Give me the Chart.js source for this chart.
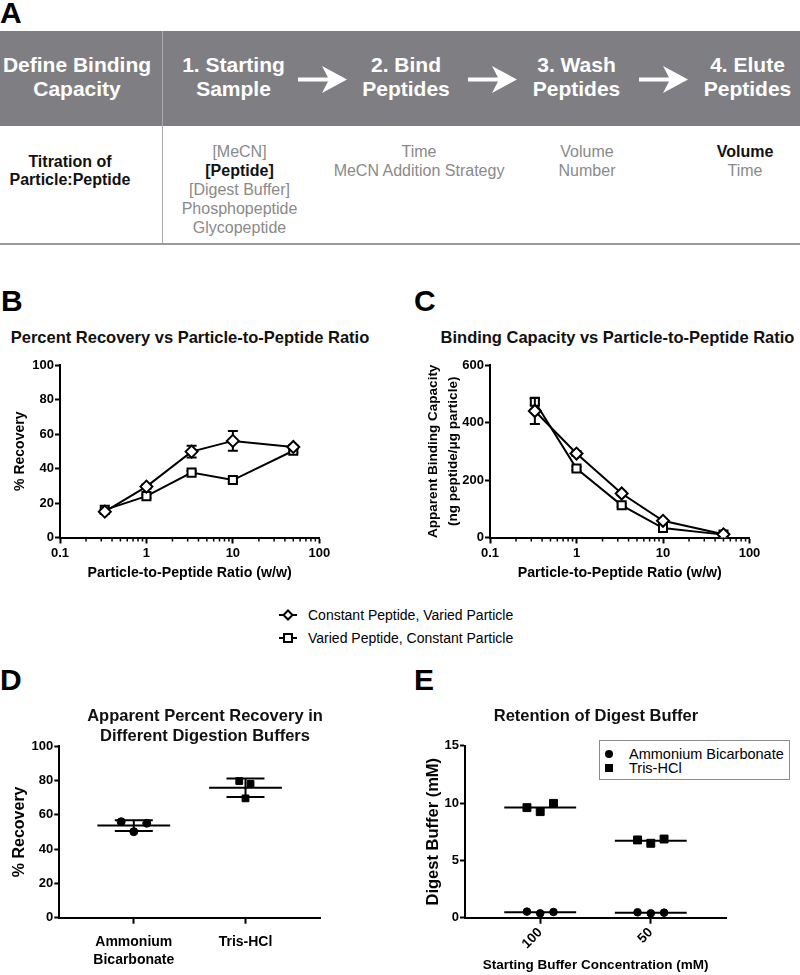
<!DOCTYPE html>
<html>
<head>
<meta charset="utf-8">
<title>Figure</title>
<script src="https://cdn.jsdelivr.net/npm/chart.js@4.4.1/dist/chart.umd.min.js"></script>
<style>
  html,body{margin:0;padding:0;background:#fff}
  body{position:relative;width:800px;height:975px;overflow:hidden;font-family:"Liberation Sans",Arial,Helvetica,sans-serif;color:#000}
  .abs{position:absolute}
  .letter{position:absolute;font-weight:bold;font-size:30px;line-height:30px;color:#000}
  .ban{position:absolute;top:53px;width:200px;margin-left:-100px;text-align:center;color:#fff;font-weight:bold;font-size:21px;line-height:24px;white-space:nowrap}
  .sub{position:absolute;top:141.5px;width:240px;margin-left:-120px;text-align:center;color:#8a8a8a;font-size:16px;line-height:19px;white-space:nowrap}
  .sub b{color:#111}
  .ttl{position:absolute;width:400px;margin-left:-200px;text-align:center;font-weight:bold;font-size:16.5px;line-height:20px;white-space:nowrap;color:#111}
  canvas{position:absolute}
  .lgrow{height:23px;line-height:23px;font-size:14px;white-space:nowrap;display:flex;align-items:center}
  .lgrow svg{margin-right:11px}
  .elg{position:absolute;left:599px;top:740px;width:189px;height:38px;border:1px solid #8c8c8c;background:#fff}
  .elrow{position:absolute;left:0;font-size:14.5px;line-height:14px;white-space:nowrap}
</style>
</head>
<body>
<!-- Panel A -->
<div class="letter" style="left:0;top:-2.4px">A</div>
<div class="abs" style="left:0;top:31px;width:800px;height:95px;background:#7f7f83"></div>
<div class="abs" style="left:162px;top:31px;width:1px;height:212px;background:#aaaaad"></div>
<div class="abs" style="left:0;top:243px;width:800px;height:2px;background:#9a9a9a"></div>

<div class="ban" style="left:77px">Define Binding<br>Capacity</div>
<div class="ban" style="left:233.5px">1. Starting<br>Sample</div>
<div class="ban" style="left:406px">2. Bind<br>Peptides</div>
<div class="ban" style="left:576.5px">3. Wash<br>Peptides</div>
<div class="ban" style="left:747.5px">4. Elute<br>Peptides</div>

<svg class="abs" style="left:298px;top:66px" width="50" height="27"><polygon points="0,11.5 30,11.5 24,0 49,13.5 24,27 30,15.5 0,15.5" fill="#fff"/></svg>
<svg class="abs" style="left:468px;top:66px" width="50" height="27"><polygon points="0,11.5 30,11.5 24,0 49,13.5 24,27 30,15.5 0,15.5" fill="#fff"/></svg>
<svg class="abs" style="left:638.5px;top:66px" width="50" height="27"><polygon points="0,11.5 30,11.5 24,0 49,13.5 24,27 30,15.5 0,15.5" fill="#fff"/></svg>

<div class="sub" style="left:70px;top:152.75px;line-height:18.5px;color:#111;font-weight:bold">Titration of<br>Particle:Peptide</div>
<div class="sub" style="left:239.5px">[MeCN]<br><b>[Peptide]</b><br>[Digest Buffer]<br>Phosphopeptide<br>Glycopeptide</div>
<div class="sub" style="left:419px">Time<br>MeCN Addition Strategy</div>
<div class="sub" style="left:587px">Volume<br>Number</div>
<div class="sub" style="left:745px"><b>Volume</b><br>Time</div>

<!-- Panel B / C -->
<div class="letter" style="left:1px;top:286.3px">B</div>
<div class="letter" style="left:414px;top:286.3px">C</div>
<div class="ttl" style="left:190px;top:326.7px">Percent Recovery vs Particle-to-Peptide Ratio</div>
<div class="ttl" style="left:617.5px;top:326.7px">Binding Capacity vs Particle-to-Peptide Ratio</div>
<canvas id="cB" width="400" height="240" style="left:0;top:355px"></canvas>
<canvas id="cC" width="400" height="240" style="left:400px;top:355px"></canvas>
<div id="legendBC" class="abs" style="left:279px;top:603.5px"></div>

<!-- Panel D / E -->
<div class="letter" style="left:0;top:664.6px">D</div>
<div class="letter" style="left:414px;top:664.6px">E</div>
<canvas id="cD" width="400" height="245" style="left:0;top:730px"></canvas>
<canvas id="cE" width="400" height="245" style="left:400px;top:730px"></canvas>
<div class="ttl" style="left:205px;top:705px">Apparent Percent Recovery in<br>Different Digestion Buffers</div>
<div class="ttl" style="left:596px;top:705px">Retention of Digest Buffer</div>
<div id="legendE" class="elg"></div>

<script>
// ---------------- data ----------------
const ratios = [0.33, 1, 3.33, 10, 50];
const seriesNames = ['Constant Peptide, Varied Particle', 'Varied Peptide, Constant Particle'];
const recoveryConstPeptide = [15, 29.5, 49.8, 56, 52.5];
const recoveryConstPeptideSD = [1, 1.2, 3.4, 5.7, 1];
const recoveryVariedPeptide = [16, 24, 37.6, 33.3, 50.3];
const recoveryVariedPeptideSD = [1, 1, 1, 1, 1];
const capacityConstPeptide = [440, 292, 153, 58, 11];
const capacityConstPeptideSD = [45, 8, 6, 4, 2];
const capacityVariedPeptide = [472, 240, 112, 33, 10];
const capacityVariedPeptideSD = [10, 6, 5, 3, 1];
const logTickValues = [0.1, 1, 10, 100];
const logTickLabels = ['0.1', '1', '10', '100'];

const dCategories = [['Ammonium', 'Bicarbonate'], ['Tris-HCl']];
const dAmmonium = [55.9, 50.1, 55.0];
const dTris = [79.6, 77.9, 69.5];

const eCategories = ['100', '50'];
const eSeries = ['Ammonium Bicarbonate', 'Tris-HCl'];
const eAmmonium = [[0.53, 0.38, 0.50], [0.47, 0.38, 0.44]];
const eTris = [[9.60, 9.25, 9.97], [6.78, 6.49, 6.86]];

// ---------------- layout constants (not data) ----------------
const dJitter = [[-0.113, 0, 0.116], [-0.056, 0.045, 0]];
const eJitter = [-0.12, 0, 0.12];

const FONT = '"Liberation Sans", Arial, Helvetica, sans-serif';
Chart.defaults.font.family = FONT;
Chart.defaults.color = '#000';

const mean = a => a.reduce((s, v) => s + v, 0) / a.length;
const sd = a => { const m = mean(a); return Math.sqrt(a.reduce((s, v) => s + (v - m) * (v - m), 0) / (a.length - 1)); };

// error bars drawn just before each dataset
const errorBarPlugin = {
  id: 'errorBars',
  beforeDatasetDraw(chart, args) {
    const ds = chart.data.datasets[args.index];
    if (!ds.errors) return;
    const ys = chart.scales.y, ctx = chart.ctx;
    ctx.save(); ctx.strokeStyle = '#000'; ctx.lineWidth = 2;
    args.meta.data.forEach((pt, i) => {
      const v = ds.data[i].y, e = ds.errors[i];
      if (!e) return;
      const t = ys.getPixelForValue(v + e), b = ys.getPixelForValue(v - e), x = pt.x;
      ctx.beginPath();
      ctx.moveTo(x, t); ctx.lineTo(x, b);
      ctx.moveTo(x - 5, t); ctx.lineTo(x + 5, t);
      ctx.moveTo(x - 5, b); ctx.lineTo(x + 5, b);
      ctx.stroke();
    });
    ctx.restore();
  }
};

const logMinorTicks = {
  id: 'logMinorTicks',
  afterDraw(chart) {
    const s = chart.scales.x, ctx = chart.ctx;
    ctx.save(); ctx.strokeStyle = '#000'; ctx.lineWidth = 1.5;
    for (let e = -1; e < 2; e++) {
      for (let k = 2; k < 10; k++) {
        const px = s.getPixelForValue(k * Math.pow(10, e));
        ctx.beginPath(); ctx.moveTo(px, s.top); ctx.lineTo(px, s.top + 4); ctx.stroke();
      }
    }
    ctx.restore();
  }
};

function makeMeanPlugin(groups, halfMean, halfCap, showSd) {
  return {
    id: 'meanLines',
    beforeDatasetsDraw(chart) {
      const xs = chart.scales.x, ys = chart.scales.y, ctx = chart.ctx;
      ctx.save(); ctx.strokeStyle = '#000'; ctx.lineWidth = 2;
      groups.forEach(g => {
        const m = mean(g.values), y = ys.getPixelForValue(m);
        ctx.beginPath();
        ctx.moveTo(xs.getPixelForValue(g.cat - halfMean), y);
        ctx.lineTo(xs.getPixelForValue(g.cat + halfMean), y);
        if (showSd) {
          const s = sd(g.values);
          const yt = ys.getPixelForValue(m + s), yb = ys.getPixelForValue(m - s), xc = xs.getPixelForValue(g.cat);
          ctx.moveTo(xc, yt); ctx.lineTo(xc, yb);
          ctx.moveTo(xs.getPixelForValue(g.cat - halfCap), yt); ctx.lineTo(xs.getPixelForValue(g.cat + halfCap), yt);
          ctx.moveTo(xs.getPixelForValue(g.cat - halfCap), yb); ctx.lineTo(xs.getPixelForValue(g.cat + halfCap), yb);
        }
        ctx.stroke();
      });
      ctx.restore();
    }
  };
}

function yAxis(min, max, step, width, title, titleSize, titlePadTop, lineHeight) {
  return {
    type: 'linear', min, max,
    ticks: { stepSize: step, padding: 1, font: { size: 13, weight: 'bold' }, color: '#000' },
    grid: { drawOnChartArea: false, drawTicks: true, tickLength: 5, tickWidth: 2, tickColor: '#000' },
    border: { display: true, color: '#000', width: 2 },
    title: { display: true, text: title, color: '#000', font: { size: titleSize, weight: 'bold', lineHeight: lineHeight }, padding: { top: titlePadTop, bottom: 0 } },
    afterFit: s => { s.width = width; }
  };
}

function logXAxis(title, titlePadBottom, height) {
  return {
    type: 'logarithmic', min: 0.1, max: 100,
    afterBuildTicks: s => { s.ticks = logTickValues.map(v => ({ value: v })); },
    ticks: { autoSkip: false, maxRotation: 0, minRotation: 0, padding: 2, font: { size: 13, weight: 'bold' }, color: '#000',
      callback: (v, i) => logTickLabels[i] },
    grid: { drawOnChartArea: false, drawTicks: true, tickLength: 6, tickWidth: 2, tickColor: '#000' },
    border: { display: true, color: '#000', width: 2 },
    title: { display: true, text: title, color: '#000', font: { size: 14.2, weight: 'bold', lineHeight: 1.2 }, padding: { top: 0, bottom: titlePadBottom } },
    afterFit: s => { s.height = height; }
  };
}

function catXAxis(cats, min, max, height, tickFont, opts) {
  return Object.assign({
    type: 'linear', min, max,
    afterBuildTicks: s => { s.ticks = cats.map((c, i) => ({ value: i })); },
    ticks: { autoSkip: false, maxRotation: 0, minRotation: 0, padding: 9, font: tickFont, color: '#000',
      callback: (v, i) => cats[i] },
    grid: { drawOnChartArea: false, drawTicks: true, tickLength: 6, tickWidth: 2, tickColor: '#000' },
    border: { display: true, color: '#000', width: 2 },
    afterFit: s => { s.height = height; }
  }, opts || {});
}

function lineSet(label, xs, ys, errs, style, radius) {
  return {
    label, data: xs.map((x, i) => ({ x, y: ys[i] })), errors: errs,
    pointStyle: style, pointRadius: radius, pointBorderWidth: 2,
    pointBackgroundColor: '#fff', pointBorderColor: '#000', backgroundColor: '#fff',
    borderColor: '#000', borderWidth: 2, tension: 0, fill: false
  };
}

const baseOpts = { responsive: false, animation: false, devicePixelRatio: 1, events: [],
  plugins: { legend: { display: false }, tooltip: { enabled: false } } };

// ---------------- Panel B ----------------
new Chart(document.getElementById('cB'), {
  type: 'line',
  data: { datasets: [
    lineSet(seriesNames[0], ratios, recoveryConstPeptide, recoveryConstPeptideSD, 'rectRot', 6),
    lineSet(seriesNames[1], ratios, recoveryVariedPeptide, recoveryVariedPeptideSD, 'rect', 5.7)
  ] },
  options: Object.assign({}, baseOpts, {
    layout: { padding: { left: 0, top: 10, right: 80.7, bottom: 0 } },
    scales: {
      x: logXAxis('Particle-to-Peptide Ratio (w/w)', 13.3, 57.5),
      y: yAxis(0, 100, 20, 60, '% Recovery', 14, 11.6, 1.2)
    }
  }),
  plugins: [errorBarPlugin, logMinorTicks]
});

// ---------------- Panel C ----------------
new Chart(document.getElementById('cC'), {
  type: 'line',
  data: { datasets: [
    lineSet(seriesNames[0], ratios, capacityConstPeptide, capacityConstPeptideSD, 'rectRot', 6),
    lineSet(seriesNames[1], ratios, capacityVariedPeptide, capacityVariedPeptideSD, 'rect', 5.7)
  ] },
  options: Object.assign({}, baseOpts, {
    layout: { padding: { left: 0, top: 10, right: 50.5, bottom: 0 } },
    scales: {
      x: logXAxis('Particle-to-Peptide Ratio (w/w)', 13.3, 57.5),
      y: yAxis(0, 600, 200, 90, ['Apparent Binding Capacity', '(ng peptide/\u03bcg particle)'], 13.5, 23, 1.48)
    }
  }),
  plugins: [errorBarPlugin, logMinorTicks]
});

// legend B/C
(function () {
  const lg = document.getElementById('legendBC');
  const syms = [
    '<line x1="0" y1="8" x2="18" y2="8" stroke="#000" stroke-width="2"/><polygon points="9,3.5 13.5,8 9,12.5 4.5,8" fill="#fff" stroke="#000" stroke-width="2"/>',
    '<line x1="0" y1="8" x2="18" y2="8" stroke="#000" stroke-width="2"/><rect x="5" y="4" width="8" height="8" fill="#fff" stroke="#000" stroke-width="2"/>'
  ];
  seriesNames.forEach((n, i) => {
    const row = document.createElement('div');
    row.className = 'lgrow';
    row.innerHTML = '<svg width="18" height="16">' + syms[i] + '</svg><span></span>';
    row.querySelector('span').textContent = n;
    lg.appendChild(row);
  });
})();

// ---------------- Panel D ----------------
new Chart(document.getElementById('cD'), {
  type: 'scatter',
  data: { datasets: [
    { label: 'Ammonium Bicarbonate', data: dAmmonium.map((y, j) => ({ x: 0 + dJitter[0][j], y })),
      pointStyle: 'circle', pointRadius: 4, pointBorderWidth: 1, backgroundColor: '#000', borderColor: '#000' },
    { label: 'Tris-HCl', data: dTris.map((y, j) => ({ x: 1 + dJitter[1][j], y })),
      pointStyle: 'rect', pointRadius: 4.8, pointBorderWidth: 1, backgroundColor: '#000', borderColor: '#000' }
  ] },
  options: Object.assign({}, baseOpts, {
    layout: { padding: { left: 0, top: 16, right: 80, bottom: 0 } },
    scales: {
      x: catXAxis(dCategories, -0.667, 1.667, 57.3, { size: 14, weight: 'bold', lineHeight: 1.3 }),
      y: yAxis(0, 100, 20, 59.3, '% Recovery', 16, 10.4, 1.2)
    }
  }),
  plugins: [makeMeanPlugin([{ cat: 0, values: dAmmonium }, { cat: 1, values: dTris }], 0.326, 0.17, true)]
});

// ---------------- Panel E ----------------
const eAmmPts = [], eTrisPts = [], eGroups = [];
eCategories.forEach((c, i) => {
  eAmmonium[i].forEach((y, j) => eAmmPts.push({ x: i + eJitter[j], y }));
  eTris[i].forEach((y, j) => eTrisPts.push({ x: i + eJitter[j], y }));
  eGroups.push({ cat: i, values: eAmmonium[i] }, { cat: i, values: eTris[i] });
});
new Chart(document.getElementById('cE'), {
  type: 'scatter',
  data: { datasets: [
    { label: eSeries[0], data: eAmmPts, pointStyle: 'circle', pointRadius: 3.8, pointBorderWidth: 1, backgroundColor: '#000', borderColor: '#000' },
    { label: eSeries[1], data: eTrisPts, pointStyle: 'rect', pointRadius: 5.6, pointBorderWidth: 1, backgroundColor: '#000', borderColor: '#000' }
  ] },
  options: Object.assign({}, baseOpts, {
    layout: { padding: { left: 0, top: 15.7, right: 74, bottom: 0 } },
    scales: {
      x: catXAxis(eCategories, -0.68, 1.68, 57.3, { size: 13.5, weight: 'bold' }, {
        ticks: { autoSkip: false, maxRotation: 45, minRotation: 45, padding: 1, font: { size: 13.5, weight: 'bold' }, color: '#000',
          callback: (v, i) => eCategories[i] },
        title: { display: true, text: 'Starting Buffer Concentration (mM)', color: '#000', font: { size: 13.5, weight: 'bold', lineHeight: 1.2 }, padding: { top: 0, bottom: 1.9 } }
      }),
      y: yAxis(0, 15, 5, 65, 'Digest Buffer (mM)', 16.5, 23.1, 1.2)
    }
  }),
  plugins: [makeMeanPlugin(eGroups, 0.325, 0, false)]
});

// legend E
(function () {
  const lg = document.getElementById('legendE');
  const syms = [
    '<circle cx="5" cy="5" r="4" fill="#000"/>',
    '<rect x="1" y="1" width="8" height="8" fill="#000"/>'
  ];
  eSeries.forEach((n, i) => {
    const row = document.createElement('div');
    row.className = 'elrow';
    row.style.top = (6.3 + i * 14) + 'px';
    row.innerHTML = '<svg width="10" height="10" style="position:absolute;left:3.7px;top:2px">' + syms[i] + '</svg><span style="position:absolute;left:29px;top:0"></span>';
    row.querySelector('span').textContent = n;
    lg.appendChild(row);
  });
})();
</script>
</body>
</html>
